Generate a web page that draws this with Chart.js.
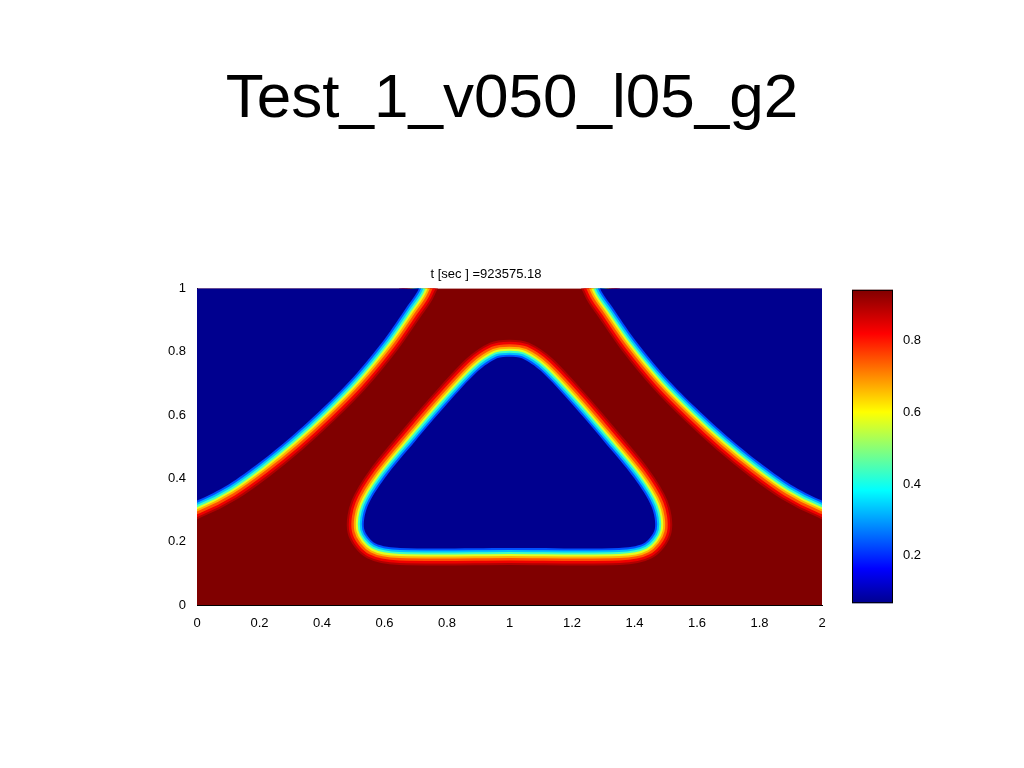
<!DOCTYPE html>
<html>
<head>
<meta charset="utf-8">
<script src="https://cdn.jsdelivr.net/npm/chart.js@4.4.1/dist/chart.umd.min.js"></script>
<style>
  body { margin: 0; width: 1024px; height: 768px; background: #fff; position: relative; overflow: hidden; font-family: "Liberation Sans", Arial, sans-serif; }
  #title { position: absolute; top: 60px; width: 1024px; text-align: center; font-size: 62px; color: #000; }
  #main { position: absolute; left: 150px; top: 263px; }
  #bar { position: absolute; left: 852px; top: 280px; }
</style>
</head>
<body>
<div id="title">Test_1_v050_l05_g2</div>
<canvas id="main" width="690" height="382"></canvas>
<canvas id="bar" width="80" height="333"></canvas>
<script>
// --- Interface curves (x, y in data units) ---
const leftEdge = [
  [-0.2, 1.2], [-0.2, 0.26], [0, 0.33], [0.1, 0.38], [0.2, 0.45], [0.3, 0.53], [0.4, 0.62],
  [0.5, 0.72], [0.6, 0.84], [0.67, 0.94], [0.71, 1.0], [0.78, 1.2], [-0.2, 1.2]
];
const rightEdge = [
  [2.2, 1.2], [2.2, 0.26], [2, 0.33], [1.9, 0.38], [1.8, 0.45], [1.7, 0.53], [1.6, 0.62],
  [1.5, 0.72], [1.4, 0.84], [1.33, 0.94], [1.29, 1.0], [1.22, 1.2], [2.2, 1.2]
];
const triangle = [
  [1, 0.18], [1.35, 0.18], [1.43, 0.195], [1.465, 0.24], [1.455, 0.31], [1.4, 0.4],
  [1.3, 0.52], [1.2, 0.635], [1.1, 0.74], [1.04, 0.78], [1, 0.785], [0.96, 0.78],
  [0.9, 0.74], [0.8, 0.635], [0.7, 0.52], [0.6, 0.4], [0.545, 0.31], [0.535, 0.24],
  [0.57, 0.195], [0.65, 0.18], [1, 0.18]
];
const xTicks = [0, 0.2, 0.4, 0.6, 0.8, 1, 1.2, 1.4, 1.6, 1.8, 2];
const yTicks = [0, 0.2, 0.4, 0.6, 0.8, 1];
const barTicks = [0.2, 0.4, 0.6, 0.8];
const barRange = [0.067, 0.942];

const RED = '#800000', BLUE = '#00008f';
// transition band, outermost (red side) to innermost (blue side)
const band = [
  { w: 34, c: '#b00000' },
  { w: 30, c: '#ee0000' },
  { w: 25, c: '#ff5000' },
  { w: 20, c: '#ffb000' },
  { w: 16, c: '#e0ff20' },
  { w: 12, c: '#40ffc0' },
  { w: 8, c: '#00c0ff' },
  { w: 4, c: '#0050ff' }
];

const pts = a => a.map(p => ({ x: p[0], y: p[1] }));
const datasets = [];
let ord = 100;
[leftEdge, rightEdge, triangle].forEach(shape => {
  band.forEach(b => {
    datasets.push({ data: pts(shape), borderColor: b.c, borderWidth: b.w, fill: false,
      pointRadius: 0, borderJoinStyle: 'round', tension: 0.3, clip: 0, order: ord-- });
  });
});
[leftEdge, rightEdge, triangle].forEach(shape => {
  datasets.push({ data: pts(shape), borderWidth: 0, borderColor: BLUE, backgroundColor: BLUE,
    fill: 'shape', pointRadius: 0, tension: 0.3, clip: 0, order: ord-- });
});

const areaBg = {
  id: 'areaBg',
  beforeDatasetsDraw(chart) {
    const a = chart.chartArea, ctx = chart.ctx;
    ctx.save(); ctx.fillStyle = RED; ctx.fillRect(a.left, a.top, a.width, a.height); ctx.restore();
  }
};

const tickFont = { family: 'Liberation Sans', size: 13 };

new Chart(document.getElementById('main'), {
  type: 'line',
  data: { datasets },
  options: {
    responsive: false, animation: false,
    layout: { padding: { right: 18, top: 0 } },
    plugins: {
      legend: { display: false }, tooltip: { enabled: false },
      title: { display: true, text: 't [sec ] =923575.18', color: '#000',
        font: { family: 'Liberation Sans', size: 13, weight: 'normal' }, padding: { top: 4, bottom: 6 } }
    },
    scales: {
      x: { type: 'linear', min: 0, max: 2,
        afterBuildTicks: s => { s.ticks = xTicks.map(v => ({ value: v })); },
        afterFit: s => { s.height = 40; },
        ticks: { color: '#000', font: tickFont, maxRotation: 0, callback: v => String(v) },
        grid: { display: false }, border: { display: true, color: '#000' } },
      y: { type: 'linear', min: 0, max: 1,
        afterBuildTicks: s => { s.ticks = yTicks.map(v => ({ value: v })); },
        afterFit: s => { s.width = 47; },
        ticks: { color: '#000', font: tickFont, callback: v => String(v) },
        grid: { display: false }, border: { display: true, color: '#000' } }
    }
  },
  plugins: [areaBg]
});

// --- Colour bar ---
const jet = {
  id: 'jet',
  beforeDatasetsDraw(chart) {
    const a = chart.chartArea, ctx = chart.ctx;
    const g = ctx.createLinearGradient(0, a.bottom, 0, a.top);
    [['#00008f', 0], ['#0000ff', 0.11], ['#00ffff', 0.36], ['#ffff00', 0.61], ['#ff0000', 0.86], ['#800000', 1]]
      .forEach(s => g.addColorStop(s[1], s[0]));
    ctx.save(); ctx.fillStyle = g; ctx.fillRect(a.left, a.top, a.width, a.height);
    ctx.strokeStyle = '#000'; ctx.lineWidth = 1; ctx.strokeRect(a.left + 0.5, a.top + 0.5, a.width - 1, a.height - 1);
    ctx.restore();
  }
};

new Chart(document.getElementById('bar'), {
  type: 'line',
  data: { datasets: [{ data: [] }] },
  options: {
    responsive: false, animation: false,
    layout: { padding: 0 },
    plugins: { legend: { display: false }, tooltip: { enabled: false } },
    scales: {
      x: { type: 'linear', display: false, min: 0, max: 1 },
      y: { type: 'linear', position: 'right', min: barRange[0], max: barRange[1],
        afterBuildTicks: s => { s.ticks = barTicks.map(v => ({ value: v })); },
        afterFit: s => { s.width = 39; },
        ticks: { color: '#000', font: tickFont, padding: 2, callback: v => String(v) },
        grid: { display: false }, border: { display: false } }
    }
  },
  plugins: [jet]
});
</script>
</body>
</html>
